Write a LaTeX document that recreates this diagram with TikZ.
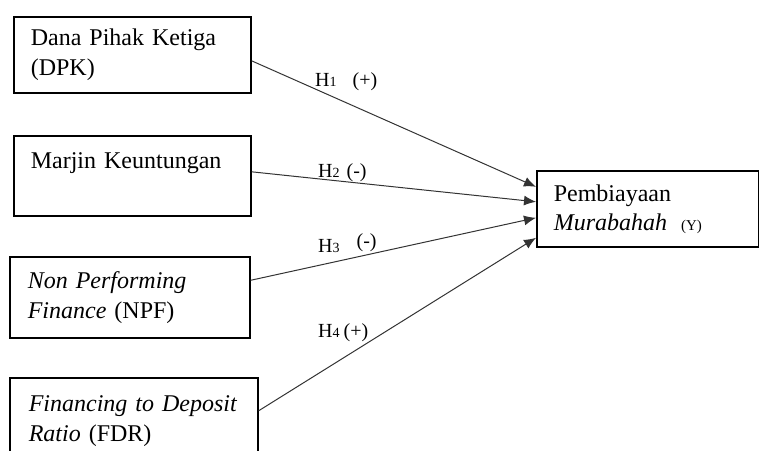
\documentclass[tikz,border=0pt]{standalone}
\usepackage{fontspec}
\setmainfont{Liberation Serif}
\usetikzlibrary{arrows.meta,positioning,calc}

\newcommand{\hnum}[1]{{\fontsize{14}{14}\selectfont #1}}

\begin{document}
\begin{tikzpicture}[x=1pt,y=-1pt,
  var/.style={draw,line width=1.6pt,anchor=north west,align=left,
    inner xsep=17pt,font=\fontsize{24}{30}\selectfont},
  hyp/.style={draw=black!80,line width=1pt,-{Latex[length=12pt,width=10pt]}},
  lbl/.style={anchor=base west,inner sep=0pt,font=\fontsize{20}{20}\selectfont}]
  \useasboundingbox (0,0) rectangle (759,450);

  % independent variables
  \node[var,text width=203pt,minimum height=76pt] (dpk) at (13,16)
    {Dana Pihak Ketiga\\(DPK)};
  \node[var,text width=203pt,minimum height=80pt] (mk) at (13,135)
    {Marjin Keuntungan\\~};
  \node[var,text width=204pt,minimum height=81pt,inner xsep=18pt] (npf) at (9,256)
    {\textit{Non Performing}\\\textit{Finance} (NPF)};
  \node[var,text width=210pt,minimum height=86pt,inner xsep=19pt] (fdr) at (9,377)
    {\textit{Financing to Deposit}\\\textit{Ratio} (FDR)};

  % dependent variable
  \node[var,text width=188pt,minimum height=76pt,
    font=\fontsize{24}{29}\selectfont] (pm) at (536,170)
    {Pembiayaan\\\textit{Murabahah}\hspace{14pt}{\fontsize{15}{15}\selectfont(Y)}};

  % hypotheses
  \draw[hyp] ([yshift=-6pt]dpk.east) -- ([yshift=22pt]pm.west);
  \draw[hyp] ([yshift=4pt]mk.east) -- ([yshift=7pt]pm.west);
  \draw[hyp] ([yshift=17pt]npf.east) -- ([yshift=-9pt]pm.west);
  \draw[hyp] ([yshift=10pt]fdr.east) -- ([yshift=-29pt]pm.west);

  % labels
  \node[lbl] (h1) at (315,86) {H\hnum{1}\hspace{16pt}(+)};
  \node[lbl] (h2) at (318,177) {H\hnum{2}\hspace{7pt}(-)};
  \node[lbl] (h3) at (318,252) {H\hnum{3}\hspace{17pt}\raisebox{5pt}{(-)}};
  \node[lbl] (h4) at (318,337) {H\hnum{4}\hspace{4pt}(+)};
\end{tikzpicture}
\end{document}
